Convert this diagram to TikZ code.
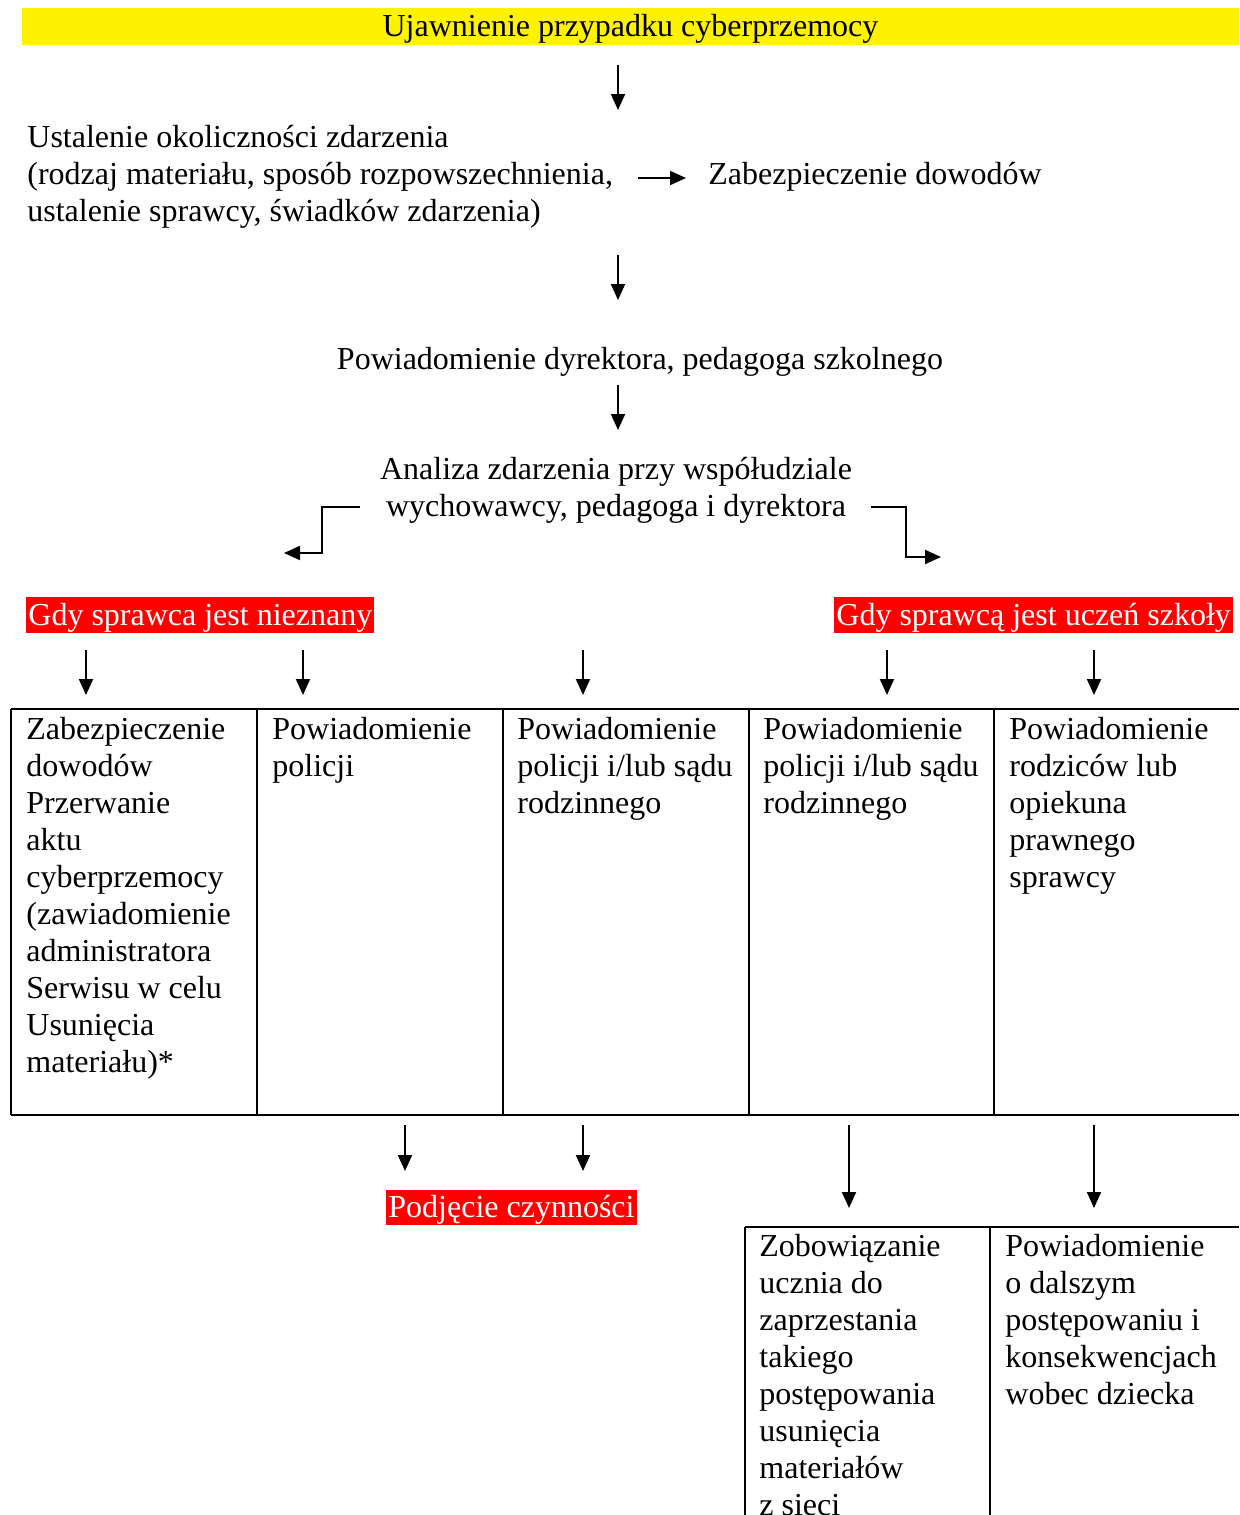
\documentclass[tikz,border=0pt]{standalone}
\usepackage{fontspec}
\setmainfont{Liberation Serif}
\usetikzlibrary{arrows.meta}
\tikzset{arr/.style={-{Triangle[length=8pt,width=7pt]},line width=1pt},
  txt/.style={inner sep=0pt,anchor=north west,align=left},
  redlab/.style={fill=red,text=white,inner xsep=1pt,inner ysep=0pt,text height=14pt,text depth=4pt,anchor=north west}}

\begin{document}
\begin{tikzpicture}[x=0.5pt,y=-0.5pt,font=\fontsize{16}{18.5}\selectfont]
      \useasboundingbox (0,0) rectangle (1239,1515);

      \node[fill=yellow,minimum width=608.5pt,minimum height=18.5pt,inner sep=0pt,text height=14pt,text depth=4.5pt] (top) at (630.5,26.5) {Ujawnienie przypadku cyberprzemocy};

      \node[txt] (ustal) at (27,125) {Ustalenie okoliczności zdarzenia\\(rodzaj materiału, sposób rozpowszechnienia,\\ustalenie sprawcy, świadków zdarzenia)};
      \node[txt,anchor=base west] (zabez) at (708,184) {Zabezpieczenie dowodów};
      \node[txt,anchor=base] (dyr) at (640,369) {Powiadomienie dyrektora, pedagoga szkolnego};
      \node[txt,anchor=north,align=center] (anal) at (616,457) {Analiza zdarzenia przy współudziale\\wychowawcy, pedagoga i dyrektora};

      \node[redlab] (niez) at (26,597) {Gdy sprawca jest nieznany};
      \node[redlab] (uczen) at (834,597) {Gdy sprawcą jest uczeń szkoły};

      % arrows in the upper part
      \coordinate (a1) at (618,65);  \coordinate (a2) at (618,110);
      \coordinate (b1) at (638,178); \coordinate (b2) at (686,178);
      \coordinate (c1) at (618,255); \coordinate (c2) at (618,300);
      \coordinate (d1) at (618,385); \coordinate (d2) at (618,430);
      \draw[arr] (a1) -- (a2);
      \draw[arr] (b1) -- (b2);
      \draw[arr] (c1) -- (c2);
      \draw[arr] (d1) -- (d2);

      \coordinate (l1) at (360,507); \coordinate (l2) at (284,553);
      \coordinate (r1) at (871,507); \coordinate (r2) at (941,557);
      \draw[arr] (l1) -- (322,507) |- (l2);
      \draw[arr] (r1) -- (906,507) |- (r2);

      \foreach \x in {86,303,583,887,1094}
        \draw[arr] (\x,650) coordinate (s\x) -- (\x,695) coordinate (e\x);

      % table
      \draw[line width=1pt] (11,709) -- (1239,709);
      \draw[line width=1pt] (11,1115) -- (1239,1115);
      \foreach \x in {11,257,503,749,994}
        \draw[line width=1pt] (\x,709) -- (\x,1115);

      \node[txt] (k1) at (26,717) {Zabezpieczenie\\dowodów\\Przerwanie\\aktu\\cyberprzemocy\\(zawiadomienie\\administratora\\Serwisu w celu\\Usunięcia\\materiału)*};
      \node[txt] (k2) at (272,717) {Powiadomienie\\policji};
      \node[txt] (k3) at (517,717) {Powiadomienie\\policji i/lub sądu\\rodzinnego};
      \node[txt] (k4) at (763,717) {Powiadomienie\\policji i/lub sądu\\rodzinnego};
      \node[txt] (k5) at (1009,717) {Powiadomienie\\rodziców lub\\opiekuna\\prawnego\\sprawcy};

      \foreach \x in {405,583}
        \draw[arr] (\x,1125) coordinate (p\x) -- (\x,1171) coordinate (q\x);
      \foreach \x in {849,1094}
        \draw[arr] (\x,1125) coordinate (p\x) -- (\x,1208) coordinate (q\x);

      \node[redlab,text height=13.5pt,text depth=4pt] (podj) at (386,1190) {Podjęcie czynności};

      % lower table
      \draw[line width=1pt] (745,1227) -- (1239,1227);
      \draw[line width=1pt] (745,1227) -- (745,1515);
      \draw[line width=1pt] (990,1227) -- (990,1515);

      \node[txt] (m1) at (759,1234) {Zobowiązanie\\ucznia do\\zaprzestania\\takiego\\postępowania\\usunięcia\\materiałów\\z sieci};
      \node[txt] (m2) at (1005,1234) {Powiadomienie\\o dalszym\\postępowaniu i\\konsekwencjach\\wobec dziecka};
  \end{tikzpicture}
\end{document}
